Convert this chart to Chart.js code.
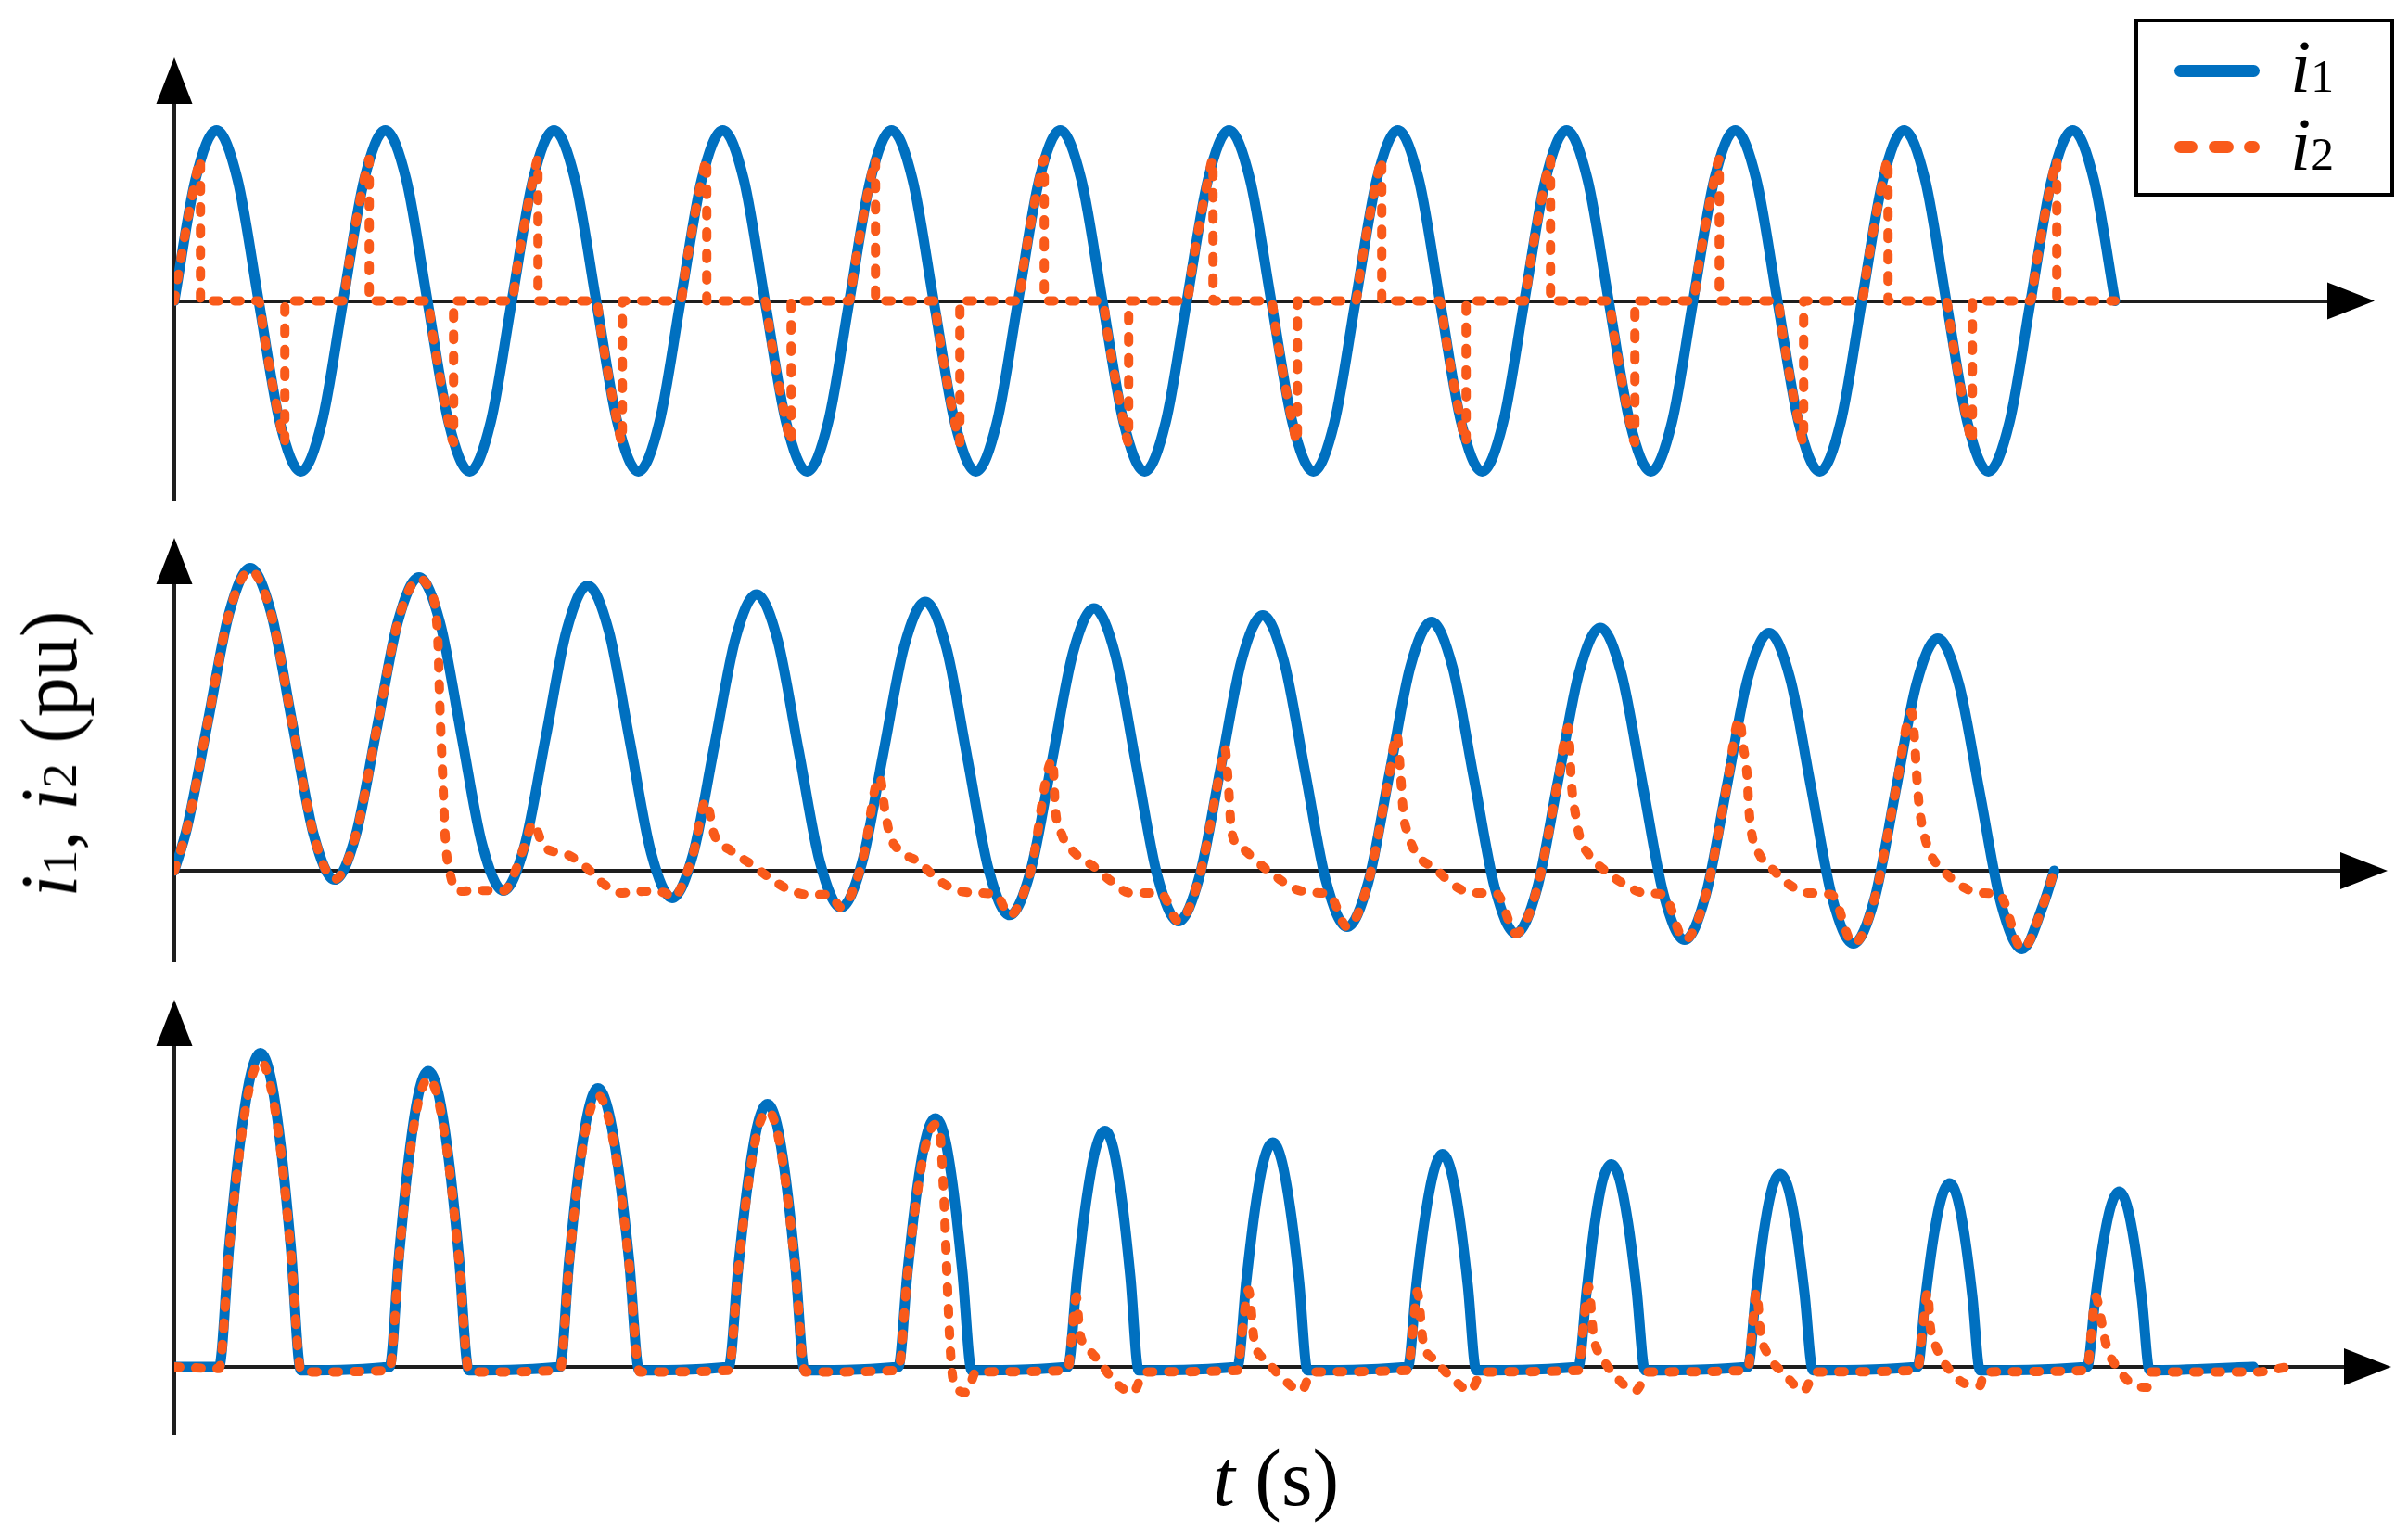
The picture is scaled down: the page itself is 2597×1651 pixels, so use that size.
<!DOCTYPE html>
<html>
<head>
<meta charset="utf-8">
<title>i1, i2 (pu) versus t (s)</title>
<script src="https://cdn.jsdelivr.net/npm/chart.js@4.4.1/dist/chart.umd.min.js"></script>
<style>
  html, body { margin: 0; padding: 0; background: #fff; }
  body { width: 2597px; height: 1651px; position: relative; overflow: hidden;
         font-family: 'Liberation Serif', 'Times New Roman', Times, serif; color: #000; }
  .panel { position: absolute; left: 0; width: 2597px; }
  .lbl { position: absolute; white-space: nowrap; font-size: 86px; line-height: 1; }
  .sub { font-size: 0.62em; }
  #ylab { left: 53px; top: 813px; transform: translate(-50%, -50%) rotate(-90deg); }
  #xlab { left: 1376px; top: 1551px; transform: translateX(-50%); }
  #legend { position: absolute; left: 2302px; top: 20px; width: 280px; height: 192px;
            border: 4px solid #000; box-sizing: border-box; background: #fff; }
  #legend .smp { position: absolute; height: 13px; border-radius: 6.5px; }
  #legend .txt { position: absolute; left: 164px; font-size: 80px; line-height: 1; white-space: nowrap; }
</style>
</head>
<body>

<div id="p1" class="panel" style="top:52px;height:506px"><canvas id="c1"></canvas></div>
<div id="p2" class="panel" style="top:570px;height:485px"><canvas id="c2"></canvas></div>
<div id="p3" class="panel" style="top:1068px;height:498px"><canvas id="c3"></canvas></div>

<div id="ylab" class="lbl"><i>i</i><span class="sub">1</span>, <i>i</i><span class="sub">2</span> (pu)</div>
<div id="xlab" class="lbl"><i>t</i> (s)</div>

<div id="legend">
  <div class="smp" style="left:39px;top:46px;width:92px;background:#0070C0"></div>
  <div class="txt" style="top:8px"><i>i</i><span class="sub">1</span></div>
  <div class="smp" style="left:39px;top:128px;width:25px;background:#F95A1A"></div>
  <div class="smp" style="left:76px;top:128px;width:27px;background:#F95A1A"></div>
  <div class="smp" style="left:114px;top:128px;width:17px;background:#F95A1A"></div>
  <div class="txt" style="top:92px"><i>i</i><span class="sub">2</span></div>
</div>

<script>
// Waveforms i1 / i2 as [t (ms), i (pu)]

const BLUE   = '#0070C0';
const ORANGE = '#F95A1A';
const AXIS   = '#1e1e1e';

// --- top panel ---
const p1i1 = [
  [0,0],[2.5,.71],[5,1],[7.5,.71],[10,0],[12.5,-.71],[15,-1],[17.5,-.71],
  [20,0],[22.5,.71],[25,1],[27.5,.71],[30,0],[32.5,-.71],[35,-1],[37.5,-.71],
  [40,0],[42.5,.71],[45,1],[47.5,.71],[50,0],[52.5,-.71],[55,-1],[57.5,-.71],
  [60,0],[62.5,.71],[65,1],[67.5,.71],[70,0],[72.5,-.71],[75,-1],[77.5,-.71],
  [80,0],[82.5,.71],[85,1],[87.5,.71],[90,0],[92.5,-.71],[95,-1],[97.5,-.71],
  [100,0],[102.5,.71],[105,1],[107.5,.71],[110,0],[112.5,-.71],[115,-1],[117.5,-.71],
  [120,0],[122.5,.71],[125,1],[127.5,.71],[130,0],[132.5,-.71],[135,-1],[137.5,-.71],
  [140,0],[142.5,.71],[145,1],[147.5,.71],[150,0],[152.5,-.71],[155,-1],[157.5,-.71],
  [160,0],[162.5,.71],[165,1],[167.5,.71],[170,0],[172.5,-.71],[175,-1],[177.5,-.71],
  [180,0],[182.5,.71],[185,1],[187.5,.71],[190,0],[192.5,-.71],[195,-1],[197.5,-.71],
  [200,0],[202.5,.71],[205,1],[207.5,.71],[210,0],[212.5,-.71],[215,-1],[217.5,-.71],
  [220,0],[222.5,.71],[225,1],[227.5,.71],[230,0]
];
const p1i2 = [
  [0,0],[.6,.19],[1.6,.48],[2.5,.71],[3.1,.83],[3.1,0],
  [10,0],[10.6,-.19],[11.6,-.48],[12.5,-.71],[13.1,-.83],[13.1,0],
  [20,0],[20.6,.19],[21.6,.48],[22.5,.71],[23.1,.83],[23.1,0],
  [30,0],[30.6,-.19],[31.6,-.48],[32.5,-.71],[33.1,-.83],[33.1,0],
  [40,0],[40.6,.19],[41.6,.48],[42.5,.71],[43.1,.83],[43.1,0],
  [50,0],[50.6,-.19],[51.6,-.48],[52.5,-.71],[53.1,-.83],[53.1,0],
  [60,0],[60.6,.19],[61.6,.48],[62.5,.71],[63.1,.83],[63.1,0],
  [70,0],[70.6,-.19],[71.6,-.48],[72.5,-.71],[73.1,-.83],[73.1,0],
  [80,0],[80.6,.19],[81.6,.48],[82.5,.71],[83.1,.83],[83.1,0],
  [90,0],[90.6,-.19],[91.6,-.48],[92.5,-.71],[93.1,-.83],[93.1,0],
  [100,0],[100.6,.19],[101.6,.48],[102.5,.71],[103.1,.83],[103.1,0],
  [110,0],[110.6,-.19],[111.6,-.48],[112.5,-.71],[113.1,-.83],[113.1,0],
  [120,0],[120.6,.19],[121.6,.48],[122.5,.71],[123.1,.83],[123.1,0],
  [130,0],[130.6,-.19],[131.6,-.48],[132.5,-.71],[133.1,-.83],[133.1,0],
  [140,0],[140.6,.19],[141.6,.48],[142.5,.71],[143.1,.83],[143.1,0],
  [150,0],[150.6,-.19],[151.6,-.48],[152.5,-.71],[153.1,-.83],[153.1,0],
  [160,0],[160.6,.19],[161.6,.48],[162.5,.71],[163.1,.83],[163.1,0],
  [170,0],[170.6,-.19],[171.6,-.48],[172.5,-.71],[173.1,-.83],[173.1,0],
  [180,0],[180.6,.19],[181.6,.48],[182.5,.71],[183.1,.83],[183.1,0],
  [190,0],[190.6,-.19],[191.6,-.48],[192.5,-.71],[193.1,-.83],[193.1,0],
  [200,0],[200.6,.19],[201.6,.48],[202.5,.71],[203.1,.83],[203.1,0],
  [210,0],[210.6,-.19],[211.6,-.48],[212.5,-.71],[213.1,-.83],[213.1,0],
  [220,0],[220.6,.19],[221.6,.48],[222.5,.71],[223.1,.83],[223.1,0],
  [230,0]
];

// --- middle panel ---
const p2i1 = [
  [0,0],[1.5,.25],[4,.88],[6.5,1.51],[9,1.774],
  [11.5,1.507],[14,.861],[16.5,.215],[19,-.052],
  [21.5,.207],[24,.834],[26.5,1.461],[29,1.72],
  [31.5,1.452],[34,.802],[36.5,.151],[39,-.117],
  [41.5,.144],[44,.777],[46.5,1.41],[49,1.671],
  [51.5,1.404],[54,.756],[56.5,.107],[59,-.16],
  [61.5,.1],[64,.73],[66.5,1.36],[69,1.62],
  [71.5,1.352],[74,.703],[76.5,.053],[79,-.215],
  [81.5,.046],[84,.681],[86.5,1.315],[89,1.576],
  [91.5,1.308],[94,.658],[96.5,.008],[99,-.26],
  [101.5,.002],[104,.639],[106.5,1.276],[109,1.538],
  [111.5,1.27],[114,.621],[116.5,-.028],[119,-.296],
  [121.5,-.034],[124,.601],[126.5,1.235],[129,1.497],
  [131.5,1.23],[134,.584],[136.5,-.062],[139,-.329],
  [141.5,-.068],[144,.565],[146.5,1.198],[149,1.459],
  [151.5,1.192],[154,.546],[156.5,-.1],[159,-.367],
  [161.5,-.106],[164,.529],[166.5,1.163],[169,1.424],
  [171.5,1.157],[174,.51],[176.5,-.138],[179,-.405],
  [181.5,-.142],[184,.495],[186.5,1.131],[189,1.394],
  [191.5,1.128],[194,.484],[196.5,-.161],[199,-.427],
  [201.5,-.166],[204,.467],[206.5,1.1],[209,1.361],
  [211.5,1.095],[214,.451],[216.5,-.193],[219,-.459],
  [221.5,-.2],[222.8,0]
];
const p2i2 = [
  [0,0],[1.5,.25],[4,.88],[6.5,1.51],[9,1.76],
  [11.5,1.5],[14,.86],[16.5,.215],[19,-.05],
  [21.5,.207],[24,.834],[26.5,1.46],[29,1.71],
  [30.2,1.65],[31.2,1.39],[31.5,.92],[31.8,.56],[32.1,.2],[32.7,-.02],[33.7,-.12],[36.2,-.115],
  [39,-.117],[41.5,.144],[42.5,.28],[43.8,.14],[46.3,.1],[48.8,.02],[50.7,-.07],[52.9,-.13],[55.7,-.12],[58.2,-.13],
  [59,-.16],[61.5,.1],[63,.41],[64,.21],[65.9,.12],[68.6,.03],[70.5,-.04],[72.8,-.11],[75.2,-.14],[77.7,-.14],
  [79,-.215],[81.5,.046],[83.6,.55],[84.2,.36],[84.8,.21],[85.9,.12],[88.3,.05],[90.2,-.04],[92.5,-.11],[95.2,-.13],[97.4,-.14],
  [99,-.26],[101.5,.002],[104.1,.65],[104.4,.37],[105.2,.21],[106.8,.1],[109.1,.02],[111,-.06],[113.3,-.13],[116,-.13],[117.1,-.14],
  [119,-.296],[121.5,-.034],[124,.601],[124.5,.72],[124.9,.52],[125.3,.23],[126.4,.14],[128.4,.05],[130.7,-.04],[133,-.11],[135.7,-.13],[136.9,-.14],
  [139,-.329],[141.5,-.068],[144,.565],[144.9,.8],[145.3,.58],[145.7,.32],[146.1,.23],[147.2,.1],[149.5,.01],[151.5,-.08],[153.8,-.13],[156.7,-.135],
  [159,-.367],[161.5,-.106],[164,.529],[165.2,.84],[165.6,.5],[166.1,.32],[166.5,.21],[167.7,.09],[169.6,0],[171.9,-.08],[174.2,-.13],[176.5,-.14],
  [179,-.405],[181.5,-.142],[184,.495],[185.5,.89],[185.9,.74],[186.4,.56],[186.6,.375],[186.9,.23],[187.8,.1],[189.4,.01],[191.1,-.07],[193.6,-.13],[196.4,-.14],
  [199,-.427],[201.5,-.166],[204,.467],[205.9,.93],[206.2,.8],[206.5,.56],[206.8,.375],[207.3,.23],[208.1,.1],[209.5,.01],[211.5,-.08],[214,-.13],[216.3,-.14],
  [219,-.459],[221.5,-.2],[222.8,0]
];

// --- bottom panel ---
const p3i1 = [
  [0,0],[5.3,0],
  [6.5,.705],[7.75,1.301],[9,1.7],[10.2,1.84],[11.4,1.7],[12.6,1.301],[13.8,.705],[15,-.02],
  [25.5,0],[26.65,.664],[27.8,1.226],[28.95,1.602],[30.1,1.734],[31.3,1.602],[32.5,1.226],[33.7,.664],[34.9,-.02],
  [45.7,0],[46.8,.625],[47.95,1.155],[49.1,1.509],[50.2,1.633],[51.4,1.509],[52.65,1.155],[53.9,.625],[55.1,-.02],
  [65.7,0],[66.85,.59],[68,1.089],[69.15,1.424],[70.3,1.541],[71.4,1.424],[72.5,1.089],[73.6,.59],[74.7,-.02],
  [85.8,0],[86.9,.558],[88,1.03],[89.1,1.346],[90.2,1.457],[91.3,1.346],[92.35,1.03],[93.4,.558],[94.5,-.02],
  [105.9,0],[107,.53],[108.1,.978],[109.2,1.278],[110.3,1.383],[111.3,1.278],[112.3,.978],[113.3,.53],[114.3,-.02],
  [126,0],[127.05,.504],[128.1,.93],[129.15,1.215],[130.2,1.315],[131.2,1.215],[132.25,.93],[133.3,.504],[134.3,-.02],
  [146.2,0],[147.2,.478],[148.25,.882],[149.3,1.152],[150.3,1.247],[151.3,1.152],[152.3,.882],[153.3,.478],[154.3,-.02],
  [166.4,0],[167.4,.455],[168.35,.84],[169.3,1.098],[170.3,1.188],[171.3,1.098],[172.3,.84],[173.3,.455],[174.3,-.02],
  [186.5,0],[187.45,.433],[188.4,.799],[189.35,1.044],[190.3,1.13],[191.3,1.044],[192.25,.799],[193.2,.433],[194.2,-.02],
  [206.6,0],[207.55,.412],[208.5,.761],[209.45,.994],[210.4,1.076],[211.3,.994],[212.2,.761],[213.1,.412],[214,-.02],
  [226.7,0],[227.65,.393],[228.6,.726],[229.55,.949],[230.5,1.027],[231.4,.949],[232.3,.726],[233.2,.393],[234.1,-.02],
  [246.4,0]
];
const p3i2 = [
  [0,0],[5.3,-.01],
  [6.5,.69],[7.75,1.27],[9,1.66],[10.25,1.79],[11.4,1.65],[12.6,1.27],[13.8,.68],[15.05,-.03],
  [25.5,-.02],[26.65,.65],[27.8,1.2],[28.95,1.56],[30.15,1.69],[31.3,1.56],[32.5,1.2],[33.7,.64],[34.95,-.03],
  [45.7,-.02],[46.8,.61],[47.95,1.13],[49.1,1.47],[50.25,1.59],[51.4,1.47],[52.65,1.13],[53.9,.6],[55.15,-.03],
  [65.7,-.02],[66.85,.58],[68,1.06],[69.15,1.39],[70.35,1.5],[71.4,1.39],[72.5,1.06],[73.6,.57],[74.75,-.03],
  [85.8,-.02],[86.9,.55],[88,1],[89.1,1.31],[90.2,1.42],[90.7,1.38],[91.2,1],[91.6,.5],[92,.08],[92.4,-.1],[93.9,-.15],[95,-.03],
  [105.9,-.02],[106.4,.2],[106.9,.41],[107.3,.2],[108,.13],[109.8,.02],[111.5,-.09],[113.6,-.15],[115,-.03],
  [126,-.02],[126.6,.22],[127.3,.45],[128,.15],[129.4,.04],[131.2,-.06],[133.6,-.14],[134.8,-.03],
  [146.2,-.02],[146.8,.22],[147.3,.44],[148,.15],[149.4,.04],[151.5,-.07],[153.6,-.14],[155,-.03],
  [166.4,-.02],[167,.24],[167.6,.47],[168.2,.18],[169.3,.05],[170.7,-.05],[173.2,-.14],[174.7,-.03],
  [186.5,-.02],[187,.22],[187.5,.44],[188,.2],[188.9,.07],[190.8,-.04],[193.1,-.14],[194.5,-.03],
  [206.6,-.02],[207.2,.22],[207.8,.44],[208.1,.24],[208.7,.13],[210.1,0],[212.3,-.1],[214,-.11],[214.5,-.03],
  [226.7,-.02],[227.2,.2],[227.7,.41],[228.5,.24],[229,.12],[230.2,0],[232.4,-.11],[233.8,-.12],[234.3,-.03],
  [246.8,-.03],[250.5,0]
];

// --- layout of the three stacked panels (axis ranges + padding in px) ---
const panels = [
  { id: 'c1', i1: p1i1, i2: p1i2, xMax: 259.67, yMin: -1.1603, yMax: 1.3723, padRight: 46 },
  { id: 'c2', i1: p2i1, i2: p2i2, xMax: 261.21, yMin: -0.5217, yMax: 1.8967, padRight: 32 },
  { id: 'c3', i1: p3i1, i2: p3i2, xMax: 261.65, yMin: -0.3913, yMax: 2.0978, padRight: 28 },
];

const toXY = arr => arr.map(([x, y]) => ({ x, y }));

// arrow heads on both axes
const axisArrows = {
  id: 'axisArrows',
  afterDraw(chart) {
    const { ctx, chartArea: { left, top, right }, scales: { y } } = chart;
    const y0 = y.getPixelForValue(0);
    ctx.save();
    ctx.fillStyle = '#000';
    ctx.beginPath();
    ctx.moveTo(left, top - 10);
    ctx.lineTo(left - 19.5, top + 40);
    ctx.lineTo(left + 19.5, top + 40);
    ctx.closePath();
    ctx.fill();
    ctx.beginPath();
    ctx.moveTo(right + 10, y0);
    ctx.lineTo(right - 41, y0 - 20);
    ctx.lineTo(right - 41, y0 + 20);
    ctx.closePath();
    ctx.fill();
    ctx.restore();
  }
};

function makePanel(p) {
  return new Chart(document.getElementById(p.id), {
    type: 'line',
    data: {
      datasets: [
        {
          label: 'i1',
          data: toXY(p.i1),
          borderColor: BLUE,
          borderWidth: 11,
          borderCapStyle: 'round',
          borderJoinStyle: 'round',
          order: 2,
        },
        {
          label: 'i2',
          data: toXY(p.i2),
          borderColor: ORANGE,
          borderWidth: 10,
          borderDash: [6, 17],
          borderCapStyle: 'round',
          borderJoinStyle: 'round',
          order: 1,
        },
      ],
    },
    options: {
      responsive: true,
      maintainAspectRatio: false,
      devicePixelRatio: 1,
      animation: false,
      events: [],
      cubicInterpolationMode: 'monotone',
      elements: { point: { radius: 0 }, line: { fill: false } },
      layout: { padding: { left: 188, right: p.padRight, top: 20, bottom: 20 } },
      plugins: { legend: { display: false }, tooltip: { enabled: false } },
      scales: {
        x: { type: 'linear', min: 0, max: p.xMax, display: false },
        y: {
          min: p.yMin, max: p.yMax,
          ticks: { display: false },
          afterBuildTicks: s => { s.ticks = [{ value: 0 }]; },
          grid: { drawTicks: false, color: AXIS, lineWidth: 4 },
          border: { display: true, color: AXIS, width: 4 },
        },
      },
    },
    plugins: [axisArrows],
  });
}

panels.forEach(makePanel);
</script>
</body>
</html>
